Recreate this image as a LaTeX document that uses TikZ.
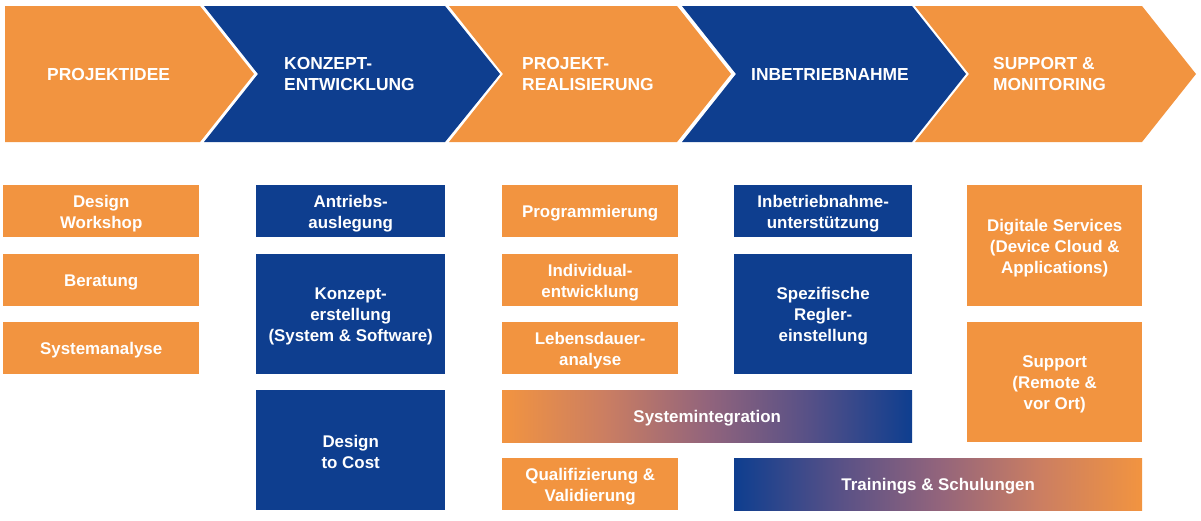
\documentclass[tikz,border=0pt]{standalone}
\usepackage{fontspec}
\setmainfont{Liberation Sans}
\definecolor{borange}{HTML}{F29440}
\definecolor{bblue}{HTML}{0E3E8F}
\definecolor{gA}{RGB}{203,126,98}
\definecolor{gB}{RGB}{146,100,124}
\definecolor{gC}{RGB}{86,80,135}
\pgfdeclarehorizontalshading{otob}{100bp}{color(0bp)=(borange); color(25bp)=(borange); color(37.5bp)=(gA); color(50bp)=(gB); color(62.5bp)=(gC); color(75bp)=(bblue); color(100bp)=(bblue)}
\pgfdeclarehorizontalshading{btoo}{100bp}{color(0bp)=(bblue); color(25bp)=(bblue); color(37.5bp)=(gC); color(50bp)=(gB); color(62.5bp)=(gA); color(75bp)=(borange); color(100bp)=(borange)}
\begin{document}
\begin{tikzpicture}[x=1pt,y=-1pt,
  head/.style={anchor=west, text=white, font=\bfseries\fontsize{17.4}{21}\selectfont, align=left, inner sep=0pt},
  ctext/.style={text=white, font=\bfseries\fontsize{16.9}{21}\selectfont, align=center, inner sep=0pt, yshift=-2pt},
  cell/.style={inner sep=0pt, anchor=north west, minimum height=52pt},
  ocell/.style={cell, fill=borange},
  bcell/.style={cell, fill=bblue},
  ochev/.style={fill=borange},
  bchev/.style={fill=bblue}]
\useasboundingbox (0,0) rectangle (1201,520);
% chevrons
\fill[ochev] (5,6) -- (200,6) -- (254,74) -- (200,142) -- (5,142) -- cycle;
\fill[bchev] (204,6) -- (445,6) -- (500,74) -- (445,142) -- (204,142) -- (258,74) -- cycle;
\fill[ochev] (449,6) -- (677,6) -- (731,74) -- (677,142) -- (449,142) -- (503,74) -- cycle;
\fill[bchev] (682,6) -- (912,6) -- (966,74) -- (912,142) -- (682,142) -- (736,74) -- cycle;
\fill[ochev] (915,6) -- (1142,6) -- (1196,74) -- (1142,142) -- (915,142) -- (969,74) -- cycle;
% header texts
\node[head] (h1) at (47,74.5) {PROJEKTIDEE};
\node[head] (h2) at (284,74) {KONZEPT-\\ENTWICKLUNG};
\node[head] (h3) at (522,74) {PROJEKT-\\REALISIERUNG};
\node[head] (h4) at (751,74.5) {INBETRIEBNAHME};
\node[head] (h5) at (993,74) {SUPPORT \&\\MONITORING};
% column 1
\node[ocell, minimum width=196pt, label={[ctext]center:{Design\\Workshop}}] (c11) at (3,185) {};
\node[ocell, minimum width=196pt, label={[ctext]center:{Beratung}}] (c12) at (3,254) {};
\node[ocell, minimum width=196pt, label={[ctext]center:{Systemanalyse}}] (c13) at (3,322) {};
% column 2
\node[bcell, minimum width=189pt, label={[ctext]center:{Antriebs-\\auslegung}}] (c21) at (256,185) {};
\node[bcell, minimum width=189pt, minimum height=120pt, label={[ctext]center:{Konzept-\\erstellung\\(System \& Software)}}] (c22) at (256,254) {};
\node[bcell, minimum width=189pt, minimum height=120pt, label={[ctext]center:{Design\\to Cost}}] (c23) at (256,390) {};
% column 3
\node[ocell, minimum width=176pt, label={[ctext]center:{Programmierung}}] (c31) at (502,185) {};
\node[ocell, minimum width=176pt, label={[ctext]center:{Individual-\\entwicklung}}] (c32) at (502,254) {};
\node[ocell, minimum width=176pt, label={[ctext]center:{Lebensdauer-\\analyse}}] (c33) at (502,322) {};
\node[cell, shading=otob, minimum width=410pt, label={[ctext]center:{Systemintegration}}] (c34) at (502,390) {};
\node[ocell, minimum width=176pt, label={[ctext]center:{Qualifizierung \&\\Validierung}}] (c35) at (502,458) {};
% column 4
\node[bcell, minimum width=178pt, label={[ctext]center:{Inbetriebnahme-\\unterstützung}}] (c41) at (734,185) {};
\node[bcell, minimum width=178pt, minimum height=120pt, label={[ctext]center:{Spezifische\\Regler-\\einstellung}}] (c42) at (734,254) {};
\node[cell, shading=btoo, minimum width=408pt, label={[ctext]center:{Trainings \& Schulungen}}] (c43) at (734,458) {};
% column 5
\node[ocell, minimum width=175pt, minimum height=121pt, label={[ctext]center:{Digitale Services\\(Device Cloud \&\\Applications)}}] (c51) at (967,185) {};
\node[ocell, minimum width=175pt, minimum height=120pt, label={[ctext]center:{Support\\(Remote \&\\vor Ort)}}] (c52) at (967,322) {};
\end{tikzpicture}
\end{document}
